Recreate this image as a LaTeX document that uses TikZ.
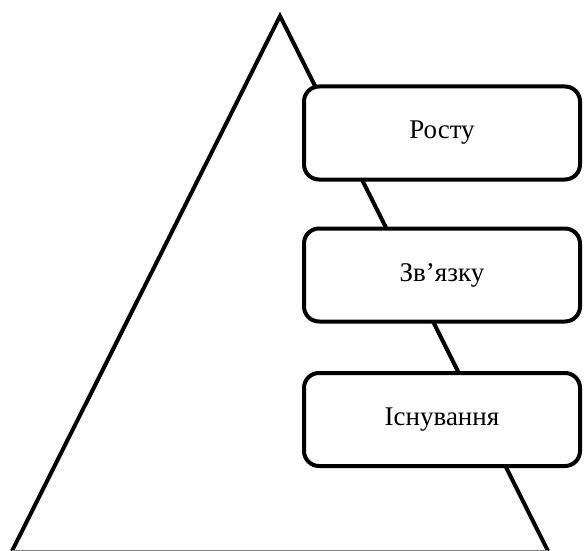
\documentclass[tikz,border=0pt]{standalone}
\usepackage{fontspec}
\setmainfont{Liberation Serif}
\begin{document}
\begin{tikzpicture}[x=1pt,y=-1pt,
  edge/.style={line width=4pt,line join=miter},
  level/.style={draw,line width=4pt,fill=white,rounded corners=15pt,
    minimum width=276pt,minimum height=93pt,inner sep=0pt,
    font=\fontsize{27}{30}\selectfont}]
\useasboundingbox (0,0) rectangle (584,551);
\coordinate (apex) at (280,16);
\coordinate (bl) at (12,551);
\coordinate (br) at (548,551);
\draw[edge] (bl) -- (apex) -- (br);
\draw[line width=1.5pt,gray] (bl) -- (br);
\node[level] (growth) at (442,133) {Росту};
\node[level] (relat) at (442,275) {Зв’язку};
\node[level] (exist) at (442,419.5) {Існування};
\end{tikzpicture}
\end{document}
